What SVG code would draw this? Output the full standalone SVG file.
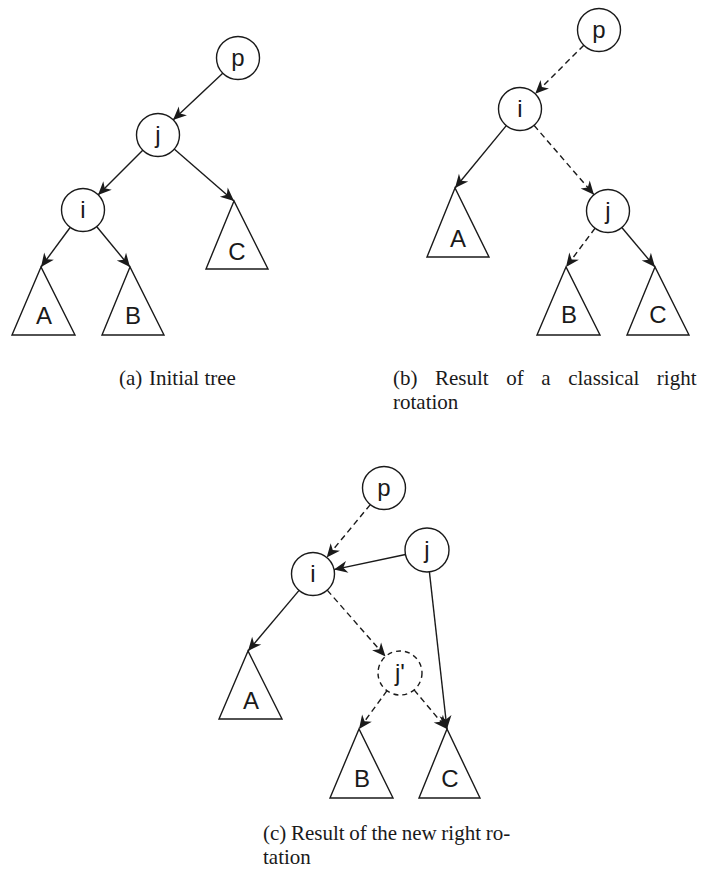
<svg xmlns="http://www.w3.org/2000/svg" width="709" height="884" viewBox="0 0 709 884">
<style>
.nd{fill:#fff;stroke:#1a1a1a;stroke-width:1.4}
.dn{fill:#fff;stroke:#1a1a1a;stroke-width:1.4;stroke-dasharray:5 4}
.tr{fill:#fff;stroke:#1a1a1a;stroke-width:1.4;stroke-linejoin:miter}
.lb{font-family:"Liberation Sans",Arial,sans-serif;font-size:24px;fill:#1a1a1a;text-anchor:middle}
.ed{fill:none;stroke:#1a1a1a;stroke-width:1.4;marker-end:url(#ah)}
.da{stroke-dasharray:6 4}
.cap{font-family:"Liberation Serif","Times New Roman",serif;font-size:21px;fill:#1a1a1a}
</style>
<defs>
<marker id="ah" viewBox="-15 -7 16 14" refX="0" refY="0" markerWidth="16" markerHeight="14" markerUnits="userSpaceOnUse" orient="auto">
<path d="M0,0 L-13.5,-6 L-9.5,0 L-13.5,6 Z" fill="#1a1a1a"/>
</marker>
</defs>
<g id="connectors">
<line class="ed" x1="223" y1="73" x2="173" y2="120"/>
<line class="ed" x1="143" y1="150" x2="98" y2="195"/>
<line class="ed" x1="173.9" y1="148.8" x2="234" y2="201"/>
<line class="ed" x1="70.5" y1="227" x2="41" y2="267"/>
<line class="ed" x1="96.4" y1="226.2" x2="130" y2="267"/>
<line class="ed da" x1="583.8" y1="45.2" x2="535.2" y2="93.8"/>
<line class="ed" x1="506.3" y1="125.6" x2="455" y2="188"/>
<line class="ed da" x1="534" y1="125.3" x2="594" y2="194.7"/>
<line class="ed da" x1="595.1" y1="228.2" x2="566" y2="267"/>
<line class="ed" x1="621.8" y1="227.5" x2="655" y2="267"/>
<line class="ed da" x1="370.3" y1="504.6" x2="326.7" y2="557.4"/>
<line class="ed" x1="405.5" y1="554.5" x2="334" y2="569.6"/>
<line class="ed" x1="429.4" y1="571.9" x2="447" y2="729"/>
<line class="ed" x1="299.1" y1="590.4" x2="248" y2="651"/>
<line class="ed da" x1="327.2" y1="590.1" x2="385.5" y2="656.5"/>
<line class="ed da" x1="387" y1="690.7" x2="359" y2="729"/>
<line class="ed da" x1="414.1" y1="689.9" x2="447" y2="729"/>
</g>
<g id="a-p"><circle class="nd" cx="238" cy="58" r="21.5"/><text class="lb" x="238" y="66">p</text></g>
<g id="a-j"><circle class="nd" cx="158" cy="135" r="21.5"/><text class="lb" x="158" y="143">j</text></g>
<g id="a-i"><circle class="nd" cx="83" cy="210" r="21.5"/><text class="lb" x="83" y="218">i</text></g>
<g id="a-A"><polygon class="tr" points="41,267 12,335 75,335"/><text class="lb" x="44" y="324">A</text></g>
<g id="a-B"><polygon class="tr" points="130,267 102,335 164,335"/><text class="lb" x="133" y="324">B</text></g>
<g id="a-C"><polygon class="tr" points="234,201 206,269 268,269"/><text class="lb" x="237" y="260">C</text></g>
<g id="b-p"><circle class="nd" cx="599" cy="30" r="21.5"/><text class="lb" x="599" y="38">p</text></g>
<g id="b-i"><circle class="nd" cx="520" cy="109" r="21.5"/><text class="lb" x="520" y="117">i</text></g>
<g id="b-j"><circle class="nd" cx="608" cy="211" r="21.5"/><text class="lb" x="608" y="219">j</text></g>
<g id="b-A"><polygon class="tr" points="455,188 427,257 489,257"/><text class="lb" x="458" y="247">A</text></g>
<g id="b-B"><polygon class="tr" points="566,267 537,335 600,335"/><text class="lb" x="569" y="323">B</text></g>
<g id="b-C"><polygon class="tr" points="655,267 627,335 689,335"/><text class="lb" x="658" y="323">C</text></g>
<g id="c-p"><circle class="nd" cx="384" cy="488" r="21.5"/><text class="lb" x="384" y="496">p</text></g>
<g id="c-j"><circle class="nd" cx="427" cy="550" r="22"/><text class="lb" x="427" y="558">j</text></g>
<g id="c-i"><circle class="nd" cx="313" cy="574" r="21.5"/><text class="lb" x="313" y="582">i</text></g>
<g id="c-jp"><circle class="dn" cx="400" cy="673" r="22"/><text class="lb" x="400" y="681">j'</text></g>
<g id="c-A"><polygon class="tr" points="248,651 219,719 282,719"/><text class="lb" x="251" y="709">A</text></g>
<g id="c-B"><polygon class="tr" points="359,729 330,798 393,798"/><text class="lb" x="362" y="787">B</text></g>
<g id="c-C"><polygon class="tr" points="447,729 419,798 480,798"/><text class="lb" x="450" y="787">C</text></g>
<g id="captions">
<text class="cap" y="385"><tspan x="119">(a)</tspan><tspan x="149">Initial tree</tspan></text>
<text class="cap" y="385" word-spacing="12.3"><tspan x="393">(b) Result of a classical right</tspan></text>
<text class="cap" x="393" y="409">rotation</text>
<text class="cap" x="263" y="840" word-spacing="-0.6">(c) Result of the new right ro-</text>
<text class="cap" x="263" y="864">tation</text>
</g>
</svg>
